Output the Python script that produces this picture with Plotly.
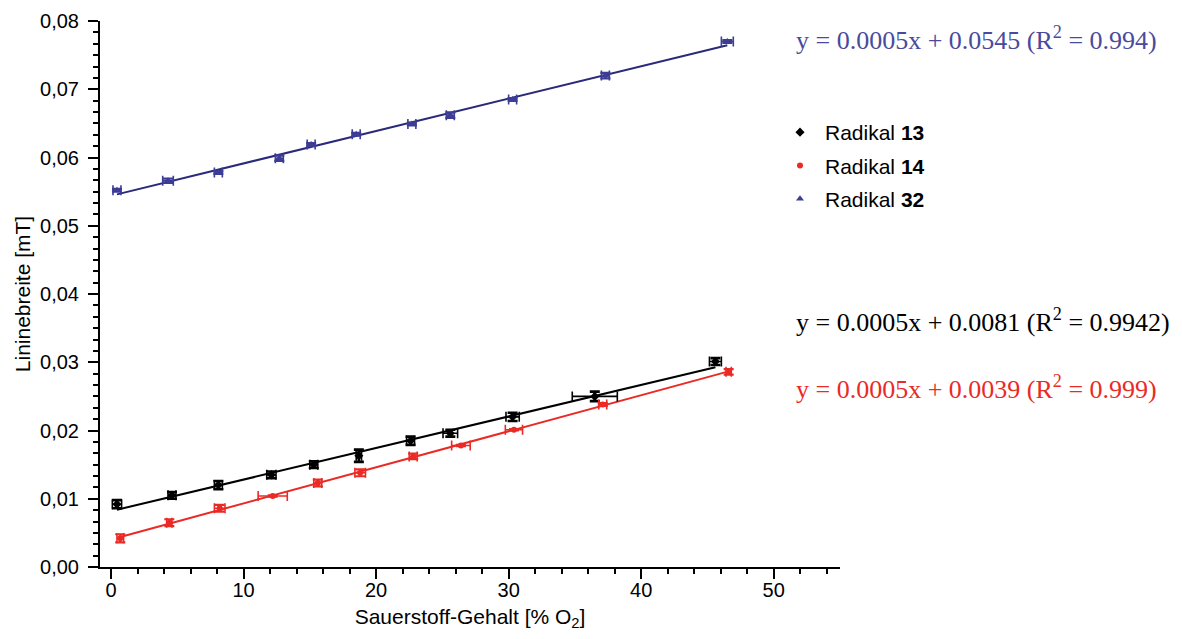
import numpy as np
import plotly.graph_objects as go

# ---------------- data ----------------
x_13 = [0.45, 4.6, 8.1, 12.1, 15.3, 18.7, 22.6, 25.6, 30.3, 36.5, 45.6]
y_13 = [0.0092, 0.0105, 0.0120, 0.0135, 0.0150, 0.0163, 0.0185, 0.0196, 0.0220, 0.0250, 0.0301]
xerr_13 = [0.35, 0.3, 0.3, 0.35, 0.3, 0.2, 0.3, 0.55, 0.5, 1.7, 0.45]
yerr_13 = [0.0006, 0.0005, 0.0006, 0.0005, 0.0005, 0.0009, 0.0006, 0.0005, 0.0006, 0.0007, 0.0005]

x_14 = [0.7, 4.4, 8.2, 12.2, 15.6, 18.8, 22.8, 26.4, 30.4, 37.1, 46.6]
y_14 = [0.0042, 0.0065, 0.0086, 0.0104, 0.0123, 0.0138, 0.0162, 0.0178, 0.0201, 0.0238, 0.0286]
xerr_14 = [0.25, 0.2, 0.4, 1.1, 0.3, 0.4, 0.3, 0.7, 0.65, 0.3, 0.2]
yerr_14 = [0.0006, 0.0005, 0.0005, 0.0001, 0.0005, 0.0005, 0.0004, 0.0001, 0.0001, 0.0002, 0.0004]

x_32 = [0.45, 4.3, 8.1, 12.7, 15.1, 18.5, 22.7, 25.6, 30.3, 37.3, 46.5]
y_32 = [0.0552, 0.0566, 0.0578, 0.0599, 0.0619, 0.0634, 0.0649, 0.0662, 0.0685, 0.0720, 0.0770]
xerr_32 = [0.3, 0.4, 0.3, 0.3, 0.3, 0.3, 0.3, 0.3, 0.3, 0.3, 0.45]
yerr_32 = [0.0002, 0.0003, 0.0002, 0.0004, 0.0002, 0.0002, 0.0002, 0.0004, 0.0002, 0.0004, 0.0002]

series_names = ["Radikal <b>13</b>", "Radikal <b>14</b>", "Radikal <b>32</b>"]
equations = [
    "y = 0.0005x + 0.0081 (R<sup>2</sup> = 0.9942)",
    "y = 0.0005x + 0.0039 (R<sup>2</sup> = 0.999)",
    "y = 0.0005x + 0.0545 (R<sup>2</sup> = 0.994)",
]

y_tickvals = [0.00, 0.01, 0.02, 0.03, 0.04, 0.05, 0.06, 0.07, 0.08]
y_ticktext = ["0,00", "0,01", "0,02", "0,03", "0,04", "0,05", "0,06", "0,07", "0,08"]
x_tickvals = [0, 10, 20, 30, 40, 50]

# ---------------- styles ----------------
BLACK = "#000000"
RED = "#ea2a25"
BLUE_M = "#3d3d96"
BLUE_L = "#2a2a7a"
BLUE_T = "#4a4a9c"

series = [
    (x_13, y_13, xerr_13, yerr_13, BLACK, BLACK, "diamond", 7, 2.6),
    (x_14, y_14, xerr_14, yerr_14, RED, RED, "circle", 6, 2.2),
    (x_32, y_32, xerr_32, yerr_32, BLUE_M, BLUE_L, "triangle-up", 7, 2.4),
]

fig = go.Figure()

# fit lines (least squares from the data)
for xs, ys, xe, ye, mc, lc, sym, sz, th in series:
    k, d = np.polyfit(xs, ys, 1)
    xl = np.array([min(xs), max(xs)])
    fig.add_trace(go.Scatter(x=xl, y=k * xl + d, mode="lines",
                             line=dict(color=lc, width=2), showlegend=False,
                             hoverinfo="skip"))

for i, (xs, ys, xe, ye, mc, lc, sym, sz, th) in enumerate(series):
    fig.add_trace(go.Scatter(
        x=xs, y=ys, mode="markers", name=series_names[i], legendgroup=f"g{i}",
        marker=dict(symbol=sym, size=sz, color=mc, line=dict(width=0)),
        error_y=dict(type="data", array=ye, color=mc, thickness=th, width=5),
        error_x=dict(type="data", array=xe, color=mc, thickness=1.6, width=5),
    ))

FONT = "Liberation Sans, Arial, sans-serif"
SERIF = "Liberation Serif, Times New Roman, serif"

# page body has an 8px margin -> figure drawn offset by (8, 8)
fig.update_layout(
    width=1166, height=623,
    margin=dict(l=92, r=334, t=13, b=64),
    paper_bgcolor="white", plot_bgcolor="white",
    font=dict(family=FONT, size=20, color="black"),
    showlegend=True,
    legend=dict(x=(775 - 100) / 740, y=(567 - 112) / 546, xanchor="left", yanchor="top",
                font=dict(family=FONT, size=21, color="black"),
                bgcolor="rgba(0,0,0,0)", tracegroupgap=3, itemwidth=40),
)

fig.update_xaxes(
    range=[-0.83, 55], showgrid=False, zeroline=False, automargin=False,
    showline=True, linecolor="black", linewidth=2,
    ticks="outside", ticklen=10, tickwidth=2, tickcolor="black",
    tickvals=x_tickvals, tickfont=dict(family=FONT, size=20), ticklabelstandoff=-6,
    minor=dict(dtick=2, tick0=0, ticks="outside", ticklen=5, tickwidth=2, tickcolor="black", showgrid=False),
    title=dict(text="Sauerstoff-Gehalt [% O<sub>2</sub>]", font=dict(family=FONT, size=21), standoff=22),
)
fig.update_yaxes(
    range=[0, 0.08], showgrid=False, zeroline=False, automargin=False,
    showline=True, linecolor="black", linewidth=2,
    ticks="outside", ticklen=10, tickwidth=2, tickcolor="black",
    tickvals=y_tickvals, ticktext=y_ticktext, tickfont=dict(family=FONT, size=20), ticklabelstandoff=5,
    minor=dict(dtick=0.01 / 6, tick0=0, ticks="outside", ticklen=5, tickwidth=2, tickcolor="black", showgrid=False),
    title=dict(text="Lininebreite [mT]", font=dict(family=FONT, size=21), standoff=4),
)

eq_colors = [BLACK, RED, BLUE_T]
eq_ypix = [320, 387, 38]
for txt, col, yp in zip(equations, eq_colors, eq_ypix):
    fig.add_annotation(text=txt, xref="paper", yref="paper",
                       x=(794 - 100) / 740, y=(567 - yp) / 546,
                       xanchor="left", yanchor="middle", showarrow=False,
                       font=dict(family=SERIF, size=26, color=col))

fig.write_html("out.html")
